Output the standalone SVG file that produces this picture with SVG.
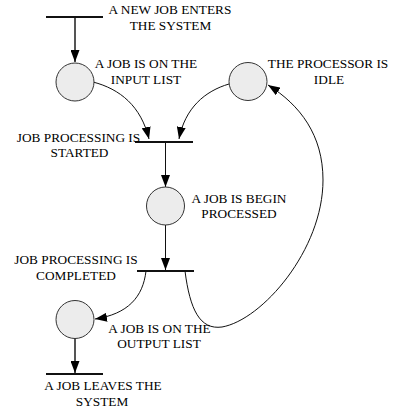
<svg xmlns="http://www.w3.org/2000/svg" width="407" height="414" viewBox="0 0 407 414">
<style>
text{font-family:"Liberation Serif","Times New Roman",serif;font-size:13.3px;fill:#000;text-anchor:middle}
.place{fill:#ececec;stroke:#333;stroke-width:1}
.bar{stroke:#111;stroke-width:2}
.arc{fill:none;stroke:#111;stroke-width:1}
.arc2{fill:none;stroke:#555;stroke-width:2}
</style>
<defs>
<marker id="ah" markerUnits="userSpaceOnUse" markerWidth="12" markerHeight="9" refX="12" refY="4.5" orient="auto">
<path d="M0,0 L12,4.5 L0,9 z" fill="#000"/>
</marker>
</defs>
<rect width="407" height="414" fill="#fff"/>
<g id="connectors">
<path class="arc2" d="M75,17 L75,62" marker-end="url(#ah)"/>
<path class="arc" d="M93,82 C120,89 141,106 149,139" marker-end="url(#ah)"/>
<path class="arc" d="M229,84 C205,91 185,108 179,139" marker-end="url(#ah)"/>
<path class="arc" d="M165.5,142 L165.5,187" marker-end="url(#ah)"/>
<path class="arc" d="M165.5,225 L165.5,270" marker-end="url(#ah)"/>
<path class="arc" d="M146,271 C143,297 128,314 95,319" marker-end="url(#ah)"/>
<path class="arc2" d="M75,338 L75,373" marker-end="url(#ah)"/>
<path class="arc" d="M185,271 C190,310 200,330 222,327 C262,320 323,250 323,180 C323,135 300,105 268,85" marker-end="url(#ah)"/>
</g>
<g id="t_enter">
<line class="bar" x1="46" y1="17" x2="103" y2="17"/>
<text x="170" y="14">A NEW JOB ENTERS</text>
<text x="170.5" y="30">THE SYSTEM</text>
</g>
<g id="p_input">
<circle class="place" cx="75" cy="82" r="19"/>
<text x="146" y="68">A JOB IS ON THE</text>
<text x="146" y="84">INPUT LIST</text>
</g>
<g id="p_idle">
<circle class="place" cx="248" cy="81.5" r="19"/>
<text x="328" y="68">THE PROCESSOR IS</text>
<text x="329" y="84">IDLE</text>
</g>
<g id="t_started">
<line class="bar" x1="135" y1="142" x2="193" y2="142"/>
<text x="78.5" y="142">JOB PROCESSING IS</text>
<text x="79.5" y="157">STARTED</text>
</g>
<g id="p_processed">
<circle class="place" cx="165.5" cy="206" r="19"/>
<text x="239" y="203">A JOB IS BEGIN</text>
<text x="239" y="218">PROCESSED</text>
</g>
<g id="t_completed">
<line class="bar" x1="137" y1="271" x2="194" y2="271"/>
<text x="76" y="264">JOB PROCESSING IS</text>
<text x="76" y="280">COMPLETED</text>
</g>
<g id="p_output">
<circle class="place" cx="75" cy="319.5" r="19"/>
<text x="159.5" y="333">A JOB IS ON THE</text>
<text x="159" y="348">OUTPUT LIST</text>
</g>
<g id="t_leave">
<line class="bar" x1="46" y1="374" x2="103" y2="374"/>
<text x="103" y="390">A JOB LEAVES THE</text>
<text x="102" y="406">SYSTEM</text>
</g>
</svg>
